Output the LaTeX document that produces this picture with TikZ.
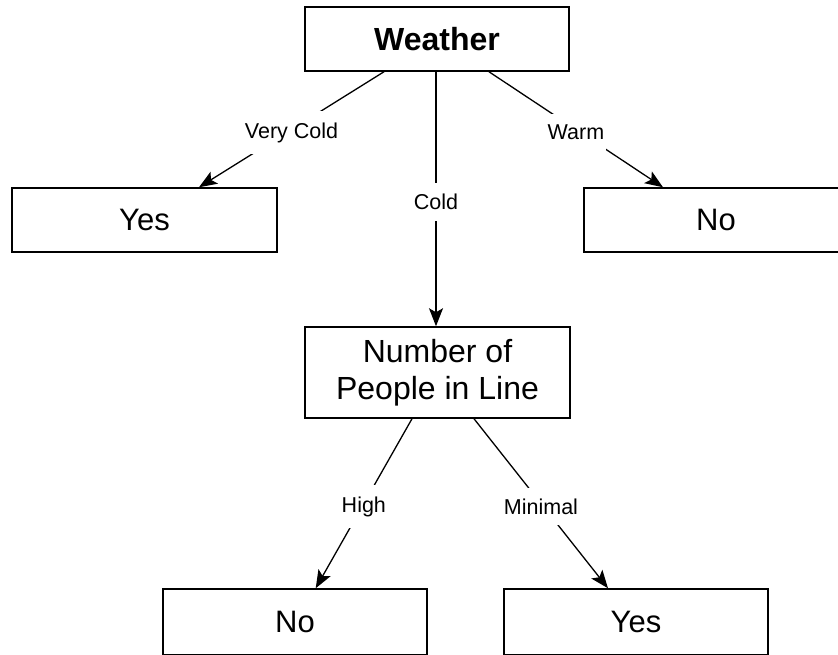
\documentclass[tikz,border=0pt]{standalone}
\usepackage{fontspec}
\setmainfont{Liberation Sans}
\usetikzlibrary{arrows.meta}
\tikzset{
  box/.style={draw, line width=1.5pt, minimum width=264pt, minimum height=64pt, inner sep=0pt, font=\fontsize{31}{36}\selectfont, align=center},
  conn/.style={line width=1.3pt, -{Stealth[length=18pt,width=14pt,inset=4pt]}},
  lbl/.style={fill=white, inner xsep=2pt, inner ysep=11pt, yshift=-3pt, font=\fontsize{21.5}{24}\selectfont}
}
\begin{document}
\begin{tikzpicture}[x=1pt,y=-1pt]
\useasboundingbox (0,0) rectangle (838,654);
\clip (0,0) rectangle (838,654);
\node[box, font=\bfseries\fontsize{32}{36}\selectfont] (w) at (437,39) {Weather};
\node[box, minimum width=265pt] (y1) at (144.5,220) {Yes};
\node[box] (n1) at (716,220) {No};
\node[box, minimum width=265pt, minimum height=91pt, font=\fontsize{32}{37}\selectfont] (p) at (437.5,372.5) {Number of\\People in Line};
\node[box, minimum height=66pt] (n2) at (295,622) {No};
\node[box, minimum height=66pt] (y2) at (636,622) {Yes};
\draw[conn] ([xshift=-53pt]w.south) -- node[lbl] {Very Cold} ([xshift=54.5pt]y1.north);
\draw[conn] ([xshift=-1pt]w.south) -- node[lbl] {Cold} ([xshift=-1.5pt]p.north);
\draw[conn] ([xshift=52pt]w.south) -- node[lbl] {Warm} ([xshift=-53pt]n1.north);
\draw[conn] ([xshift=-25.5pt]p.south) -- node[lbl] {High} ([xshift=20.7pt]n2.north);
\draw[conn] ([xshift=36.5pt]p.south) -- node[lbl] {Minimal} ([xshift=-28pt]y2.north);
\end{tikzpicture}
\end{document}
